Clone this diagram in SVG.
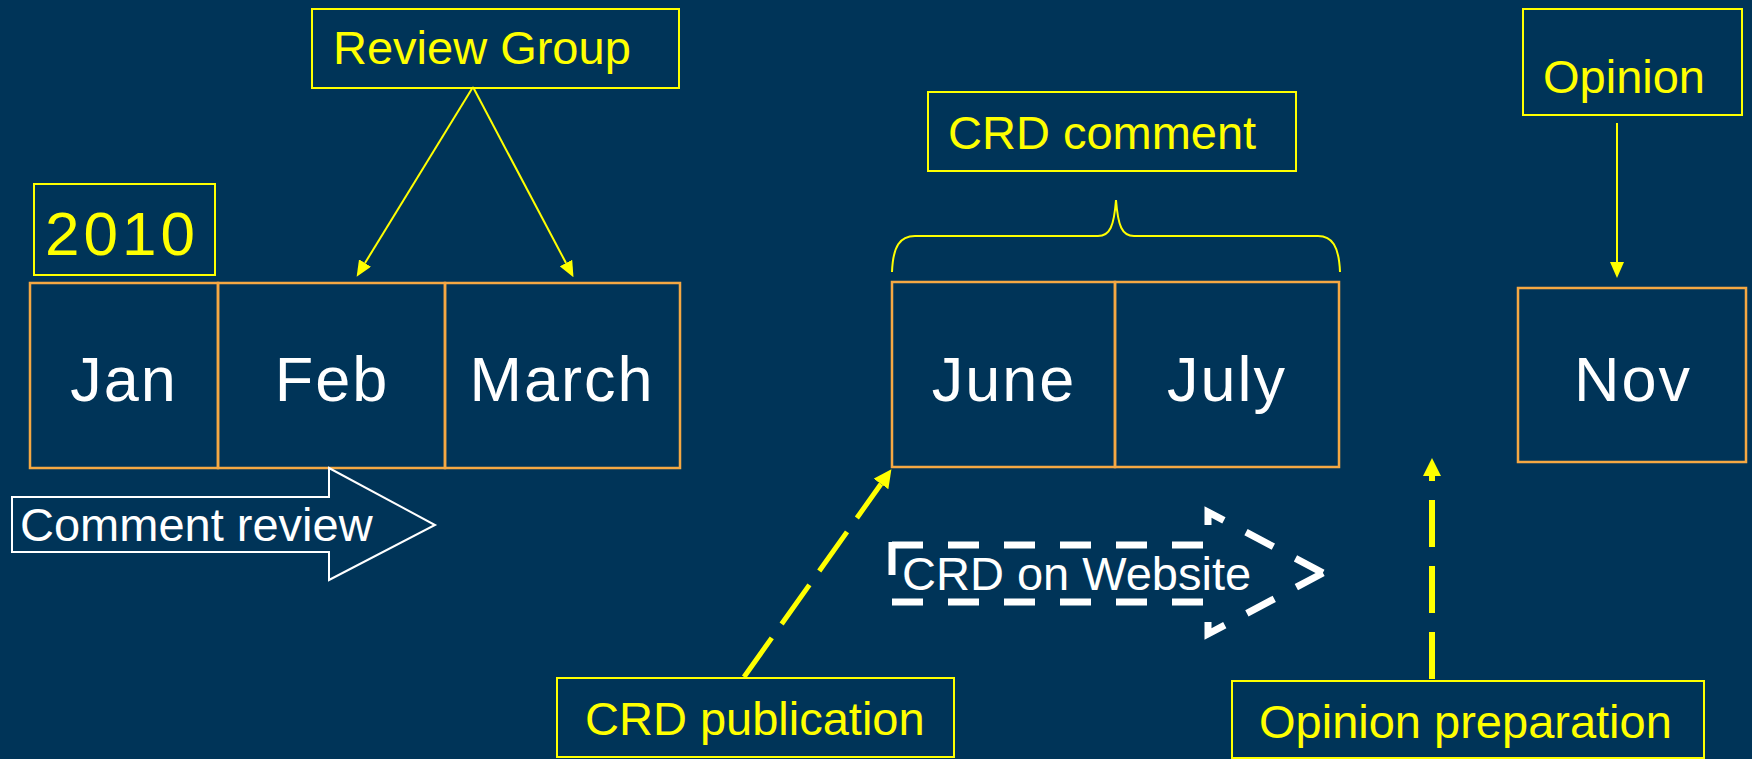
<svg xmlns="http://www.w3.org/2000/svg" width="1752" height="759" viewBox="0 0 1752 759">
<defs>
<style>
.ylw{fill:none;stroke:#FFFF00;stroke-width:2}
.org{fill:none;stroke:#F5A843;stroke-width:2.5}
.yt{font-family:"Liberation Sans",Arial,sans-serif;font-size:47px;fill:#FFFF00}
.wt{font-family:"Liberation Sans",Arial,sans-serif;font-size:47px;fill:#FFFFFF}
.mt{font-family:"Liberation Sans",Arial,sans-serif;font-size:63px;fill:#FFFFFF;text-anchor:middle;letter-spacing:2px}
.conn{fill:none;stroke:#FFFF00}
.web{fill:none;stroke:#FFFFFF;stroke-width:7}
</style>
<marker id="ah" markerUnits="userSpaceOnUse" markerWidth="16" markerHeight="14" refX="0" refY="7" orient="auto" viewBox="0 0 16 14">
<path d="M0,0 L16,7 L0,14 z" fill="#FFFF00"/>
</marker>
<marker id="ahb" markerUnits="userSpaceOnUse" markerWidth="18" markerHeight="18" refX="0" refY="9" orient="auto" viewBox="0 0 18 18">
<path d="M0,0 L18,9 L0,18 z" fill="#FFFF00"/>
</marker>
</defs>
<rect x="0" y="0" width="1752" height="759" fill="#003458"/>

<g id="year">
<rect class="ylw" x="34" y="184" width="181" height="91"/>
<text x="45" y="255" font-family="'Liberation Sans',Arial,sans-serif" font-size="62" fill="#FFFF00" letter-spacing="4">2010</text>
</g>

<g id="review-group">
<rect class="ylw" x="312" y="9" width="367" height="79"/>
<text class="yt" x="333" y="64">Review Group</text>
</g>

<g id="jan">
<rect class="org" x="30" y="283" width="188" height="185"/>
<text class="mt" x="124" y="401">Jan</text>
</g>
<g id="feb">
<rect class="org" x="218" y="283" width="227" height="185"/>
<text class="mt" x="332" y="401">Feb</text>
</g>
<g id="march">
<rect class="org" x="445" y="283" width="235" height="185"/>
<text class="mt" x="562" y="401">March</text>
</g>

<g id="comment-review">
<path d="M12,497 L329,497 L329,468 L435,525 L329,580 L329,552 L12,552 Z" fill="none" stroke="#FFFFFF" stroke-width="2"/>
<text class="wt" x="20" y="541">Comment review</text>
</g>

<g id="crd-comment">
<rect class="ylw" x="928" y="92" width="368" height="79"/>
<text class="yt" x="948" y="149">CRD comment</text>
<path class="ylw" d="M892,272 C893,246 900,236 915,236 L1098,236 C1110,236 1114,226 1116,200 C1118,226 1122,236 1134,236 L1318,236 C1332,236 1339,246 1340,272"/>
</g>

<g id="june">
<rect class="org" x="892" y="282" width="223" height="185"/>
<text class="mt" x="1004" y="401">June</text>
</g>
<g id="july">
<rect class="org" x="1115" y="282" width="224" height="185"/>
<text class="mt" x="1227" y="401">July</text>
</g>

<g id="crd-website">
<path class="web" d="M892,545 L1208,545 L1208,512 L1323,573" stroke-dasharray="31 25"/>
<path class="web" d="M892,602 L1208,602 L1208,634 L1323,573" stroke-dasharray="31 25"/>
<path class="web" d="M892,542 L892,575"/>
<text class="wt" x="902" y="590">CRD on Website</text>
</g>

<g id="opinion">
<rect class="ylw" x="1523" y="9" width="219" height="106"/>
<text class="yt" x="1543" y="93">Opinion</text>
</g>

<g id="nov">
<rect class="org" x="1518" y="288" width="228" height="174"/>
<text class="mt" x="1633" y="401">Nov</text>
</g>

<g id="crd-publication">
<rect class="ylw" x="557" y="678" width="397" height="79"/>
<text class="yt" x="585" y="735">CRD publication</text>
</g>

<g id="opinion-preparation">
<rect class="ylw" x="1232" y="681" width="472" height="77"/>
<text class="yt" x="1259" y="738">Opinion preparation</text>
</g>

<g id="connectors">
<line class="conn" stroke-width="2" x1="473" y1="87" x2="365" y2="263" marker-end="url(#ah)"/>
<line class="conn" stroke-width="2" x1="473" y1="87" x2="566" y2="263" marker-end="url(#ah)"/>
<line class="conn" stroke-width="2" x1="1617" y1="123" x2="1617" y2="262" marker-end="url(#ah)"/>
<line class="conn" stroke-width="5" stroke-dasharray="48 17" x1="744" y1="677" x2="881" y2="484" marker-end="url(#ahb)"/>
<line class="conn" stroke-width="6" stroke-dasharray="47 19" x1="1432" y1="679" x2="1432" y2="476" marker-end="url(#ahb)"/>
</g>
</svg>
